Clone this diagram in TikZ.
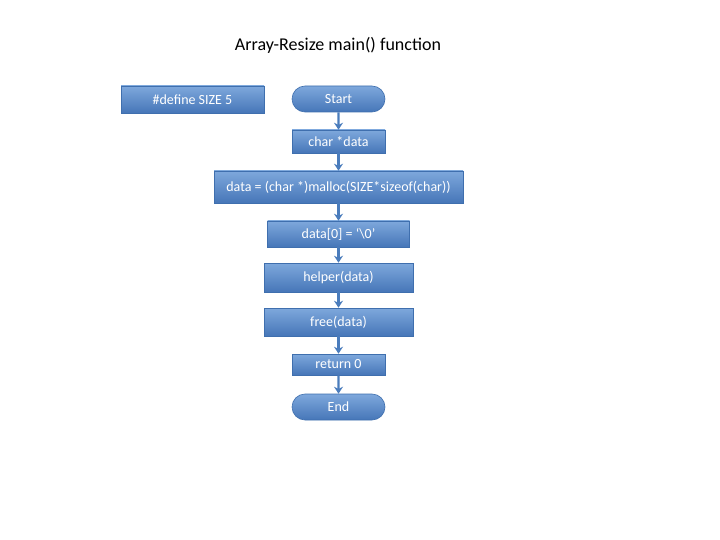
\documentclass[tikz,border=0pt]{standalone}
\usepackage{fontspec}
\setmainfont{Carlito}
\usetikzlibrary{arrows.meta,shapes.misc}
\definecolor{boxtop}{HTML}{7EA8DC}
\definecolor{boxbot}{HTML}{4676B8}
\definecolor{boxedge}{HTML}{3F6FAE}
\definecolor{arrowc}{HTML}{4A7CBC}
\tikzset{
  box/.style={draw=boxedge, line width=0.6pt, top color=boxtop, bottom color=boxbot,
    text=white, font=\fontsize{14}{16}\selectfont, inner sep=0pt, anchor=center},
  term/.style={box, rounded rectangle},
  flow/.style={draw=arrowc, line width=2.2pt, -{Stealth[length=7pt,width=9pt]}}
}
\begin{document}
\begin{tikzpicture}[x=1pt,y=-1pt]
\useasboundingbox (0,0) rectangle (720,540);
\node[font=\fontsize{18}{21}\selectfont] (title) at (338,45) {Array-Resize main() function};
\node[box, minimum width=143pt, minimum height=27pt] (def) at (192.5,99.5) {\#define SIZE 5};
\node[term, minimum width=93pt, minimum height=26pt] (start) at (338.5,99) {Start};
\node[box, minimum width=93pt, minimum height=23pt] (decl) at (338.5,141.5) {char *data};
\node[box, minimum width=249pt, minimum height=32pt] (mal) at (338.5,187) {data = (char *)malloc(SIZE*sizeof(char))};
\node[box, minimum width=142pt, minimum height=26pt] (zero) at (338.5,234) {data[0] = ‘\textbackslash0’};
\node[box, minimum width=149pt, minimum height=29pt] (help) at (338.5,277.5) {helper(data)};
\node[box, minimum width=149pt, minimum height=28pt] (free) at (338.5,322) {free(data)};
\node[box, minimum width=93pt, minimum height=21pt] (ret) at (338.5,364.5) {return 0};
\node[term, minimum width=93pt, minimum height=26pt] (end) at (338.5,407) {End};
\draw[flow] (start) -- (decl);
\draw[flow] (decl) -- (mal);
\draw[flow] (mal) -- (zero);
\draw[flow] (zero) -- (help);
\draw[flow] (help) -- (free);
\draw[flow] (free) -- (ret);
\draw[flow] (ret) -- (end);
\end{tikzpicture}
\end{document}
